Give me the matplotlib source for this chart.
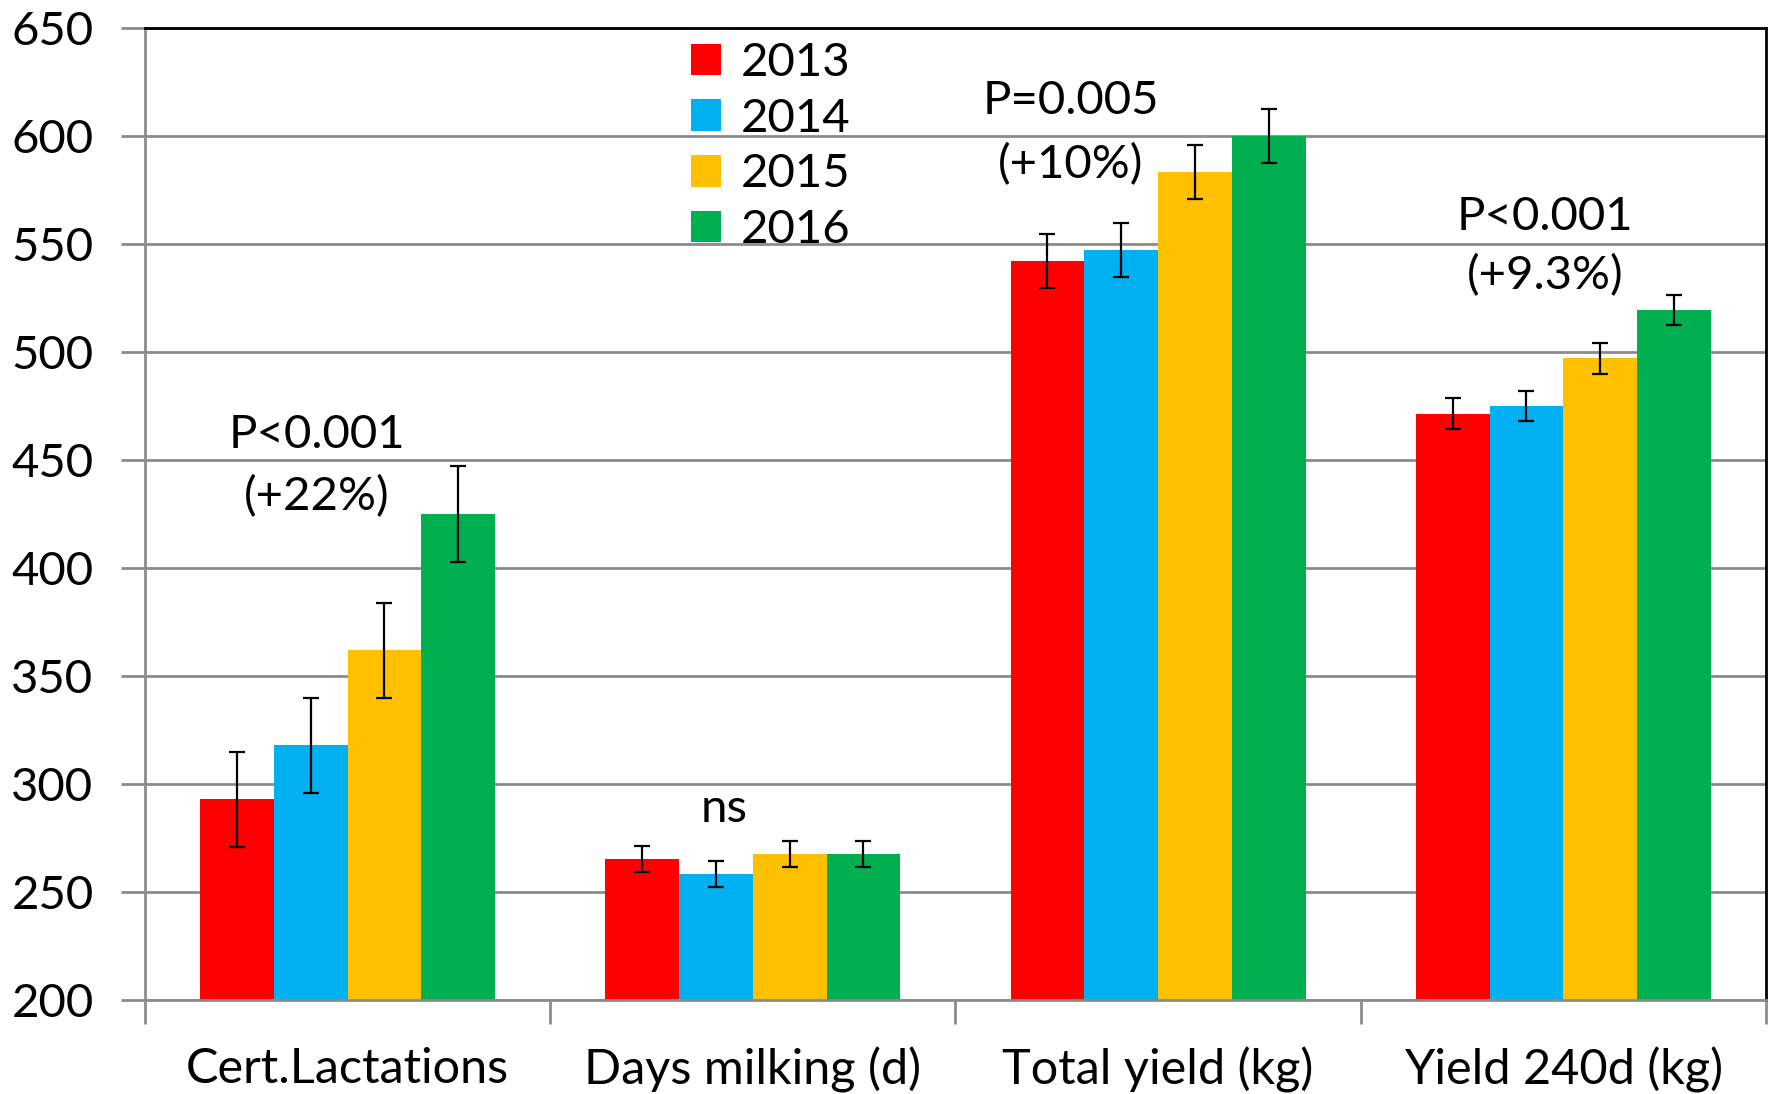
import numpy as np
import matplotlib.pyplot as plt

plt.rcParams['font.family'] = ['Lato', 'DejaVu Sans']

categories = ['Cert.Lactations', 'Days milking (d)', 'Total yield (kg)', 'Yield 240d (kg)']
years = ['2013', '2014', '2015', '2016']
colors = ['#FF0000', '#00B0F0', '#FFC000', '#00B050']

# means per year, one value per category
means = {
    '2013': [293, 265.5, 542, 471.5],
    '2014': [318, 258.5, 547, 475],
    '2015': [362, 267.5, 583.5, 497],
    '2016': [425, 267.5, 600, 519.5],
}
errs = {
    '2013': [22, 6, 12.5, 7],
    '2014': [22, 6, 12.5, 7],
    '2015': [22, 6, 12.5, 7],
    '2016': [22, 6, 12.5, 7],
}

# significance labels above each group
sig_top = ['P<0.001', 'ns', 'P=0.005', 'P<0.001']
sig_bot = ['(+22%)', '', '(+10%)', '(+9.3%)']
sig_y_top = [461.5, 288.5, 616, 562.5]
sig_y_bot = [433, None, 586.5, 535.5]
sig_dx = [-0.075, -0.07, -0.215, -0.045]

fig = plt.figure(figsize=(17.72, 10.94), dpi=100)
ax = fig.add_axes([0.0818, 0.0859, 0.9148, 0.8885])

x = np.arange(len(categories))
w = 0.182
for i, yr in enumerate(years):
    ax.bar(x + (i - 1.5) * w, np.array(means[yr]) - 200, w, bottom=200,
           color=colors[i], label=yr, zorder=2)
    ax.errorbar(x + (i - 1.5) * w, means[yr], yerr=errs[yr], fmt='none',
                ecolor='black', elinewidth=1.6, capsize=6, capthick=1.6, zorder=3)

for k in range(len(categories)):
    ax.text(k + sig_dx[k], sig_y_top[k], sig_top[k],
            ha='center', va='center', fontsize=34)
    if sig_bot[k]:
        ax.text(k + sig_dx[k], sig_y_bot[k], sig_bot[k],
                ha='center', va='center', fontsize=34)

ax.set_ylim(200, 650)
ax.set_xlim(-0.5, 3.5)
ax.set_yticks(np.arange(200, 651, 50))
ax.yaxis.grid(True, color='#8c8c8c', linewidth=2, zorder=0)
ax.set_axisbelow(True)

ax.set_xticks(x)
ax.set_xticklabels(categories)
ax.set_xticks(np.arange(-0.5, 3.6, 1), minor=True)
ax.tick_params(axis='x', which='major', length=0, pad=34, labelsize=35)
ax.tick_params(axis='x', which='minor', length=17, width=2, color='#8c8c8c')
ax.tick_params(axis='y', length=17, width=2, color='#8c8c8c', pad=20, labelsize=34)

for s in ['left', 'bottom']:
    ax.spines[s].set_color('#8c8c8c')
    ax.spines[s].set_linewidth(2)
for s in ['top', 'right']:
    ax.spines[s].set_color('black')
    ax.spines[s].set_linewidth(2)

ax.legend(loc='upper left', bbox_to_anchor=(0.325, 1.005), frameon=False,
          fontsize=34, handlelength=0.65, handleheight=0.65, handletextpad=0.4,
          labelspacing=0.29, borderaxespad=0)

fig.savefig('out.png', dpi=100)
